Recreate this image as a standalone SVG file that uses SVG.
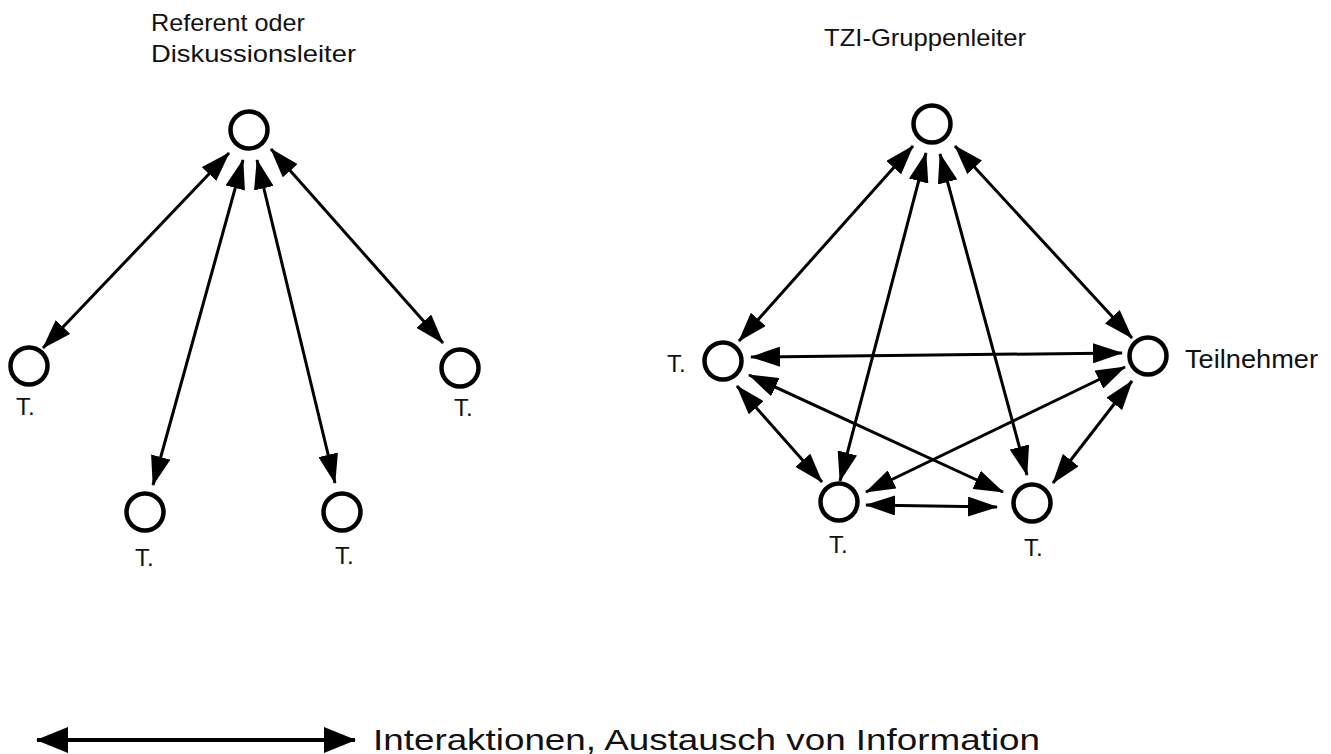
<svg xmlns="http://www.w3.org/2000/svg" width="1331" height="754" viewBox="0 0 1331 754">
<defs>
<style>
.node{fill:none;stroke:#000;stroke-width:4.5}
.lbl{font-family:"Liberation Sans",Arial,sans-serif;fill:#111}
.edge{stroke:#000;stroke-width:3;fill:none;marker-start:url(#ah);marker-end:url(#ah)}
.legend{stroke:#000;stroke-width:4;fill:none;marker-start:url(#ahL);marker-end:url(#ahL)}
</style>
<marker id="ah" viewBox="0 0 30 20" refX="29" refY="10" markerWidth="30" markerHeight="20" markerUnits="userSpaceOnUse" orient="auto-start-reverse">
<path d="M0,0 L30,10 L0,20 z" fill="#000"/>
</marker>
<marker id="ahL" viewBox="0 0 32 26" refX="31" refY="13" markerWidth="32" markerHeight="26" markerUnits="userSpaceOnUse" orient="auto-start-reverse">
<path d="M0,0 L32,13 L0,26 z" fill="#000"/>
</marker>
</defs>
<rect width="1331" height="754" fill="#fff"/>

<g id="connectors">
<line class="edge" x1="229" y1="153" x2="43" y2="348"/>
<line class="edge" x1="243" y1="160" x2="153" y2="485"/>
<line class="edge" x1="257" y1="160" x2="335" y2="483"/>
<line class="edge" x1="271" y1="149" x2="443" y2="343"/>

<line class="edge" x1="913" y1="146" x2="739" y2="341"/>
<line class="edge" x1="926" y1="153" x2="840" y2="481"/>
<line class="edge" x1="940" y1="154" x2="1027" y2="475"/>
<line class="edge" x1="955" y1="146" x2="1132" y2="338"/>
<line class="edge" x1="751" y1="357" x2="1122" y2="353"/>
<line class="edge" x1="749" y1="375" x2="1003" y2="492"/>
<line class="edge" x1="737" y1="386" x2="822" y2="482"/>
<line class="edge" x1="1125" y1="367" x2="866" y2="492"/>
<line class="edge" x1="1132" y1="381" x2="1053" y2="483"/>
<line class="edge" x1="866" y1="505" x2="997" y2="507"/>
</g>

<g id="left-leader">
<circle class="node" cx="249" cy="130" r="18.5"/>
<text class="lbl" x="151" y="31" font-size="24" textLength="154" lengthAdjust="spacingAndGlyphs">Referent oder</text>
<text class="lbl" x="151" y="62" font-size="24" textLength="205" lengthAdjust="spacingAndGlyphs">Diskussionsleiter</text>
</g>
<g id="left-t1">
<circle class="node" cx="29" cy="366" r="18.5"/>
<text class="lbl" x="16" y="415" font-size="24">T.</text>
</g>
<g id="left-t2">
<circle class="node" cx="145" cy="512" r="18.5"/>
<text class="lbl" x="135" y="566" font-size="24">T.</text>
</g>
<g id="left-t3">
<circle class="node" cx="342" cy="512" r="18.5"/>
<text class="lbl" x="335" y="564" font-size="24">T.</text>
</g>
<g id="left-t4">
<circle class="node" cx="460" cy="368" r="18.5"/>
<text class="lbl" x="454" y="416" font-size="24">T.</text>
</g>

<g id="right-leader">
<circle class="node" cx="932" cy="124" r="18.5"/>
<text class="lbl" x="824" y="46" font-size="24" textLength="202" lengthAdjust="spacingAndGlyphs">TZI-Gruppenleiter</text>
</g>
<g id="right-tl">
<circle class="node" cx="723" cy="361" r="18.5"/>
<text class="lbl" x="667" y="372" font-size="24">T.</text>
</g>
<g id="right-tr">
<circle class="node" cx="1148" cy="356" r="18.5"/>
<text class="lbl" x="1185" y="368" font-size="25" textLength="133" lengthAdjust="spacingAndGlyphs">Teilnehmer</text>
</g>
<g id="right-bl">
<circle class="node" cx="839" cy="502" r="18.5"/>
<text class="lbl" x="829" y="553" font-size="24">T.</text>
</g>
<g id="right-br">
<circle class="node" cx="1032" cy="503" r="18.5"/>
<text class="lbl" x="1024" y="556" font-size="24">T.</text>
</g>

<g id="legend">
<line class="legend" x1="37" y1="740" x2="355" y2="740"/>
<text class="lbl" x="373" y="750" font-size="29" textLength="667" lengthAdjust="spacingAndGlyphs">Interaktionen, Austausch von Information</text>
</g>
</svg>
